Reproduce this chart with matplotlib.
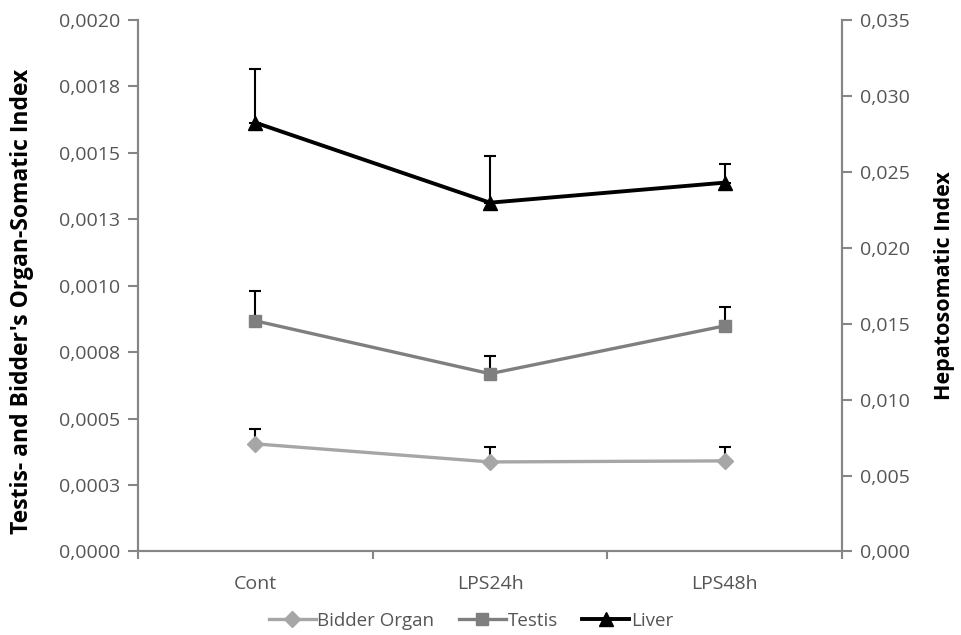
import matplotlib
matplotlib.use("Agg")
import matplotlib.pyplot as plt
import numpy as np

# values
groups = ["Cont", "LPS24h", "LPS48h"]

bidder = [0.000405, 0.000337, 0.000341]
bidder_err = [0.000056, 0.000057, 0.000053]

testis = [0.000868, 0.000669, 0.000849]
testis_err = [0.000113, 0.000068, 0.000072]

liver = [0.02824, 0.02297, 0.02429]
liver_err = [0.00356, 0.00310, 0.00120]

left_ticks = [0, 0.00025, 0.0005, 0.00075, 0.001, 0.00125, 0.0015, 0.00175, 0.002]
left_labels = ["0,0000", "0,0003", "0,0005", "0,0008", "0,0010",
               "0,0013", "0,0015", "0,0018", "0,0020"]
right_ticks = [0, 0.005, 0.01, 0.015, 0.02, 0.025, 0.03, 0.035]
right_labels = ["0,000", "0,005", "0,010", "0,015", "0,020", "0,025", "0,030", "0,035"]

plt.rcParams["font.family"] = ["Open Sans", "DejaVu Sans"]

spine_col = "#868686"
tick_col = "#555555"

fig = plt.figure(figsize=(9.61, 6.35), dpi=100)
ax = fig.add_axes([0.1436, 0.1315, 0.7326, 0.837])
ax2 = ax.twinx()

x = np.arange(len(groups)) + 0.5
zeros = [0, 0, 0]

ax.errorbar(x, bidder, yerr=[zeros, bidder_err], fmt="none", ecolor="black",
            elinewidth=1.5, capsize=4, capthick=1.5, zorder=2)
ax.plot(x, bidder, color="#A6A6A6", lw=2.4, marker="D", ms=8,
        label="Bidder Organ", zorder=3)
ax.errorbar(x, testis, yerr=[zeros, testis_err], fmt="none", ecolor="black",
            elinewidth=1.5, capsize=4, capthick=1.5, zorder=2)
ax.plot(x, testis, color="#7F7F7F", lw=2.4, marker="s", ms=9,
        label="Testis", zorder=3)

ax2.errorbar(x, liver, yerr=[zeros, liver_err], fmt="none", ecolor="black",
             elinewidth=1.5, capsize=4, capthick=1.5, zorder=2)
ax2.plot(x, liver, color="black", lw=2.8, marker="^", ms=10,
         label="Liver", zorder=3)

ax.set_xlim(0, 3)
ax.set_ylim(0, 0.002)
ax2.set_ylim(0, 0.035)

ax.set_xticks(x)
ax.set_xticklabels(groups)
ax.set_xticks([0, 1, 2, 3], minor=True)
ax.tick_params(axis="x", which="major", length=0, pad=17, labelsize=14, labelcolor=tick_col)
ax.tick_params(axis="x", which="minor", length=6, width=1.5, color=spine_col, direction="out")

ax.set_yticks(left_ticks)
ax.set_yticklabels(left_labels)
ax.tick_params(axis="y", length=7, width=1.5, color=spine_col, labelsize=14,
               labelcolor=tick_col, pad=6)
ax2.set_yticks(right_ticks)
ax2.set_yticklabels(right_labels)
ax2.tick_params(axis="y", length=7, width=1.5, color=spine_col, labelsize=14,
                labelcolor=tick_col, pad=6)

for a in (ax, ax2):
    a.spines["top"].set_visible(False)
    for s in ("left", "right", "bottom"):
        a.spines[s].set_color(spine_col)
        a.spines[s].set_linewidth(1.5)

ax.set_ylabel("Testis- and Bidder's Organ-Somatic Index", fontsize=16.5,
              fontweight="bold")
ax.yaxis.set_label_coords(-0.148, 0.47)
ax2.set_ylabel("Hepatosomatic Index", fontsize=15.5, fontweight="bold", labelpad=17)

h1, l1 = ax.get_legend_handles_labels()
h2, l2 = ax2.get_legend_handles_labels()
fig.legend(h1 + h2, l1 + l2, loc="center", bbox_to_anchor=(0.49, 0.022), ncol=3,
           frameon=False, fontsize=13.5, handlelength=2.5, handletextpad=0.1,
           columnspacing=1.3, labelcolor=tick_col)

fig.savefig("out.png", dpi=100)
